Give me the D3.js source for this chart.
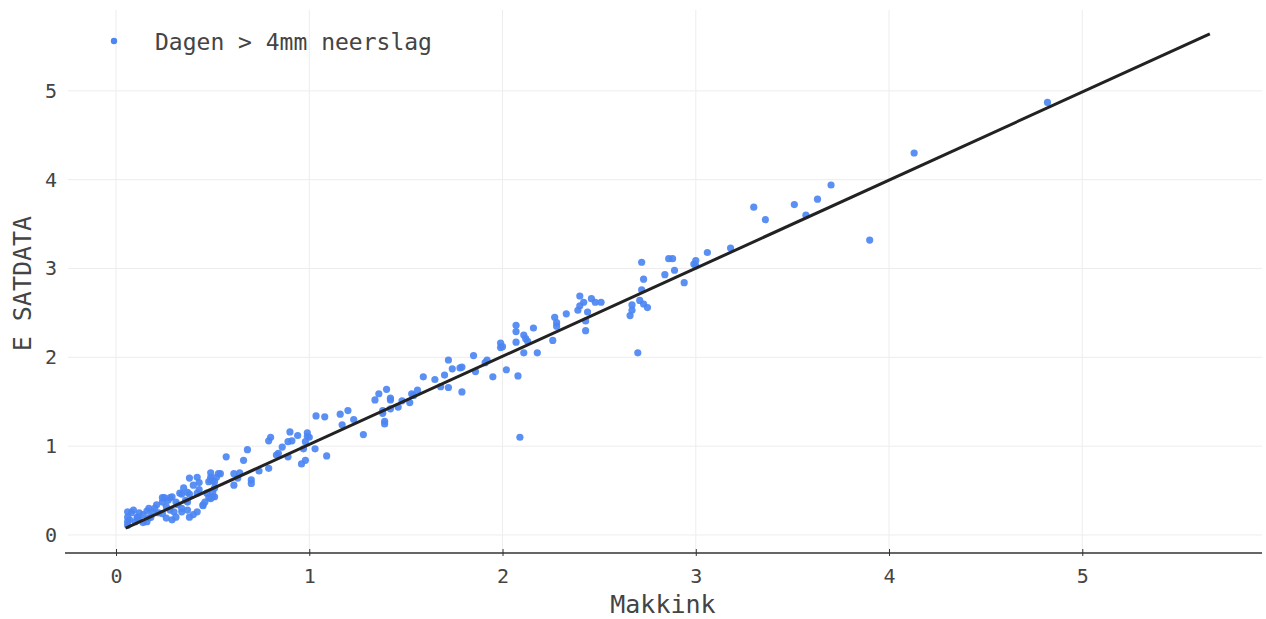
<!DOCTYPE html>
<html>
<head>
<meta charset="utf-8">
<script src="https://cdn.jsdelivr.net/npm/d3@7"></script>
<style>
  html, body { margin: 0; padding: 0; background: #fff; }
  svg { display: block; }
  text { font-family: "DejaVu Sans Mono", "Liberation Mono", monospace; fill: #444; }
</style>
</head>
<body>
<svg id="chart" width="1266" height="619"></svg>
<script>
// Daily evaporation: Makkink reference vs. satellite estimate (days with > 4 mm rain)
const makkink = [
  4.82, 4.13, 3.90, 3.70, 3.63, 3.57, 3.51, 3.36, 3.30, 3.18, 3.06,
  3.00, 2.99, 3.00, 2.94, 2.89, 2.84, 2.88, 2.86, 2.72, 2.73, 2.72, 2.71, 2.73, 2.75,
  2.67, 2.67, 2.66, 2.70, 2.51,
  2.40, 2.42, 2.46, 2.48, 2.40, 2.39, 2.44, 2.43, 2.43, 2.33, 2.27, 2.28, 2.28, 2.26,
  2.16, 2.18, 2.11, 2.12, 2.13, 2.11, 2.07, 2.07, 2.07, 1.99, 2.00, 1.99, 2.02, 2.08,
  1.92, 1.91, 1.95, 2.09,
  1.86, 1.85, 1.79, 1.79, 1.78, 1.74, 1.72, 1.72, 1.70, 1.65, 1.68, 1.59, 1.56, 1.53,
  1.54, 1.52, 1.48, 1.46, 1.42, 1.42, 1.42, 1.40, 1.36, 1.34, 1.38, 1.38, 1.39, 1.39,
  1.28, 1.23, 1.20, 1.16, 1.17,
  1.035, 1.08, 1.09, 1.03, 0.99, 1.00, 0.99, 0.98, 0.97, 0.98, 0.96, 0.94, 0.90, 0.91,
  0.89, 0.89, 0.86, 0.84, 0.83, 0.80, 0.79, 0.79, 0.74, 0.68, 0.66, 0.70, 0.70, 0.64,
  0.61, 0.61, 0.57, 0.54, 0.49, 0.49, 0.50, 0.51, 0.50, 0.49, 0.45, 0.43, 0.42,
  0.53, 0.52, 0.48, 0.49, 0.51, 0.63, 0.38, 0.40, 0.43, 0.42, 0.35, 0.34, 0.33, 0.29,
  0.28, 0.27, 0.25, 0.24, 0.24, 0.37, 0.38, 0.36, 0.37, 0.31, 0.32, 0.26, 0.28, 0.30,
  0.34, 0.37, 0.34, 0.42, 0.40, 0.38, 0.45, 0.46, 0.48, 0.50, 0.51, 0.47,
  0.17, 0.19, 0.16, 0.21, 0.20, 0.22, 0.24, 0.14, 0.12, 0.11, 0.09, 0.08, 0.06, 0.06,
  0.06, 0.07, 0.10, 0.12, 0.11, 0.17, 0.18, 0.06, 0.26, 0.29, 0.31, 0.14, 0.16
];
const satdata = [
  4.87, 4.30, 3.32, 3.94, 3.78, 3.60, 3.72, 3.55, 3.69, 3.23, 3.18,
  3.09, 3.05, 3.03, 2.84, 2.98, 2.93, 3.11, 3.11, 3.07, 2.88, 2.76, 2.64, 2.60, 2.56,
  2.59, 2.53, 2.47, 2.05, 2.62,
  2.69, 2.62, 2.66, 2.62, 2.58, 2.53, 2.51, 2.41, 2.30, 2.49, 2.45, 2.39, 2.35, 2.19,
  2.33, 2.05, 2.25, 2.21, 2.18, 2.05, 2.36, 2.29, 2.17, 2.16, 2.12, 2.11, 1.86, 1.79,
  1.97, 1.94, 1.78, 1.10,
  1.84, 2.02, 1.61, 1.89, 1.88, 1.87, 1.97, 1.66, 1.80, 1.75, 1.67, 1.78, 1.63, 1.59,
  1.57, 1.49, 1.51, 1.44, 1.42, 1.54, 1.52, 1.64, 1.59, 1.52, 1.40, 1.37, 1.28, 1.25,
  1.13, 1.30, 1.40, 1.36, 1.24,
  1.34, 1.33, 0.89, 0.97, 1.15, 1.10, 1.11, 1.05, 0.97, 0.84, 0.80, 1.12, 1.16, 1.06,
  1.05, 0.88, 0.99, 0.92, 0.90, 1.10, 1.06, 0.75, 0.72, 0.96, 0.84, 0.62, 0.58, 0.70,
  0.69, 0.56, 0.88, 0.69, 0.70, 0.65, 0.61, 0.43, 0.43, 0.41, 0.33, 0.59, 0.65,
  0.69, 0.65, 0.60, 0.62, 0.60, 0.64, 0.64, 0.56, 0.51, 0.47, 0.53, 0.46, 0.47, 0.43,
  0.42, 0.39, 0.42, 0.42, 0.37, 0.48, 0.46, 0.39, 0.37, 0.37, 0.34, 0.32, 0.28, 0.26,
  0.26, 0.28, 0.30, 0.26, 0.23, 0.20, 0.34, 0.37, 0.42, 0.48, 0.53, 0.47,
  0.30, 0.26, 0.27, 0.34, 0.30, 0.25, 0.24, 0.23, 0.25, 0.20, 0.28, 0.25, 0.26, 0.20,
  0.15, 0.17, 0.15, 0.17, 0.19, 0.19, 0.20, 0.11, 0.19, 0.17, 0.20, 0.14, 0.15
];

// Least-squares fit line
const fitSlope = 0.992;
const fitIntercept = 0.027;
const fitRange = [0.05, 5.66];

const xTicks = [0, 1, 2, 3, 4, 5];
const yTicks = [0, 1, 2, 3, 4, 5];
const xTitle = "Makkink";
const yTitle = "E SATDATA";
const legendLabel = "Dagen > 4mm neerslag";

const points = makkink.map((m, i) => ({ x: m, y: satdata[i] }));

const svg = d3.select("#chart");
const plot = { left: 65, right: 1262, top: 10, bottom: 553 };

const x = d3.scaleLinear().domain([-0.264, 5.93]).range([plot.left, plot.right]);
const y = d3.scaleLinear().domain([-0.203, 5.91]).range([plot.bottom, plot.top]);

const gridColor = "#ededed";
const dotColor = "#4c86f2";

// Grid
svg.append("g").selectAll("line").data(xTicks).join("line")
  .attr("x1", d => x(d)).attr("x2", d => x(d))
  .attr("y1", plot.top).attr("y2", plot.bottom)
  .attr("stroke", gridColor).attr("stroke-width", 1);

svg.append("g").selectAll("line").data(yTicks).join("line")
  .attr("x1", 68).attr("x2", plot.right)
  .attr("y1", d => y(d)).attr("y2", d => y(d))
  .attr("stroke", gridColor).attr("stroke-width", 1);

// Bottom axis
const xAxis = svg.append("g")
  .attr("transform", `translate(0,${plot.bottom})`)
  .call(d3.axisBottom(x).tickValues(xTicks).tickFormat(d3.format("d")).tickSize(3).tickPadding(13));
xAxis.select(".domain").attr("stroke", "#333").attr("stroke-width", 1.5)
  .attr("d", `M${plot.left},0H${plot.right}`);
xAxis.selectAll(".tick line").attr("stroke", "#333").attr("y1", -4).attr("y2", 3);
xAxis.selectAll(".tick text")
  .attr("font-size", 20).attr("fill", "#444")
  .style("font-family", '"DejaVu Sans Mono", monospace');

// Left axis labels (no axis line)
const yAxis = svg.append("g")
  .attr("transform", `translate(57,0)`)
  .call(d3.axisLeft(y).tickValues(yTicks).tickFormat(d3.format("d")).tickSize(0).tickPadding(0));
yAxis.select(".domain").remove();
yAxis.selectAll(".tick text")
  .attr("font-size", 20).attr("fill", "#444")
  .style("font-family", '"DejaVu Sans Mono", monospace');

// Axis titles
svg.append("text")
  .attr("x", x(2.83)).attr("y", 613)
  .attr("text-anchor", "middle")
  .attr("font-size", 25)
  .text(xTitle);

svg.append("text")
  .attr("transform", `translate(31,${y(2.83)}) rotate(-90)`)
  .attr("text-anchor", "middle")
  .attr("font-size", 25)
  .text(yTitle);

// Scatter
svg.append("g").selectAll("circle").data(points).join("circle")
  .attr("cx", d => x(d.x)).attr("cy", d => y(d.y))
  .attr("r", 3.6)
  .attr("fill", dotColor)
  .attr("fill-opacity", 0.92);

// Fit line
const fitLine = d3.line().x(d => x(d)).y(d => y(fitIntercept + fitSlope * d));
svg.append("path")
  .datum(fitRange)
  .attr("d", fitLine)
  .attr("fill", "none")
  .attr("stroke", "#222")
  .attr("stroke-width", 3);

// Legend
const legend = svg.append("g").attr("transform", "translate(114,41)");
legend.append("circle").attr("r", 3.2).attr("fill", dotColor);
legend.append("text")
  .attr("x", 41).attr("y", 8.5)
  .attr("font-size", 23)
  .text(legendLabel);
</script>
</body>
</html>
